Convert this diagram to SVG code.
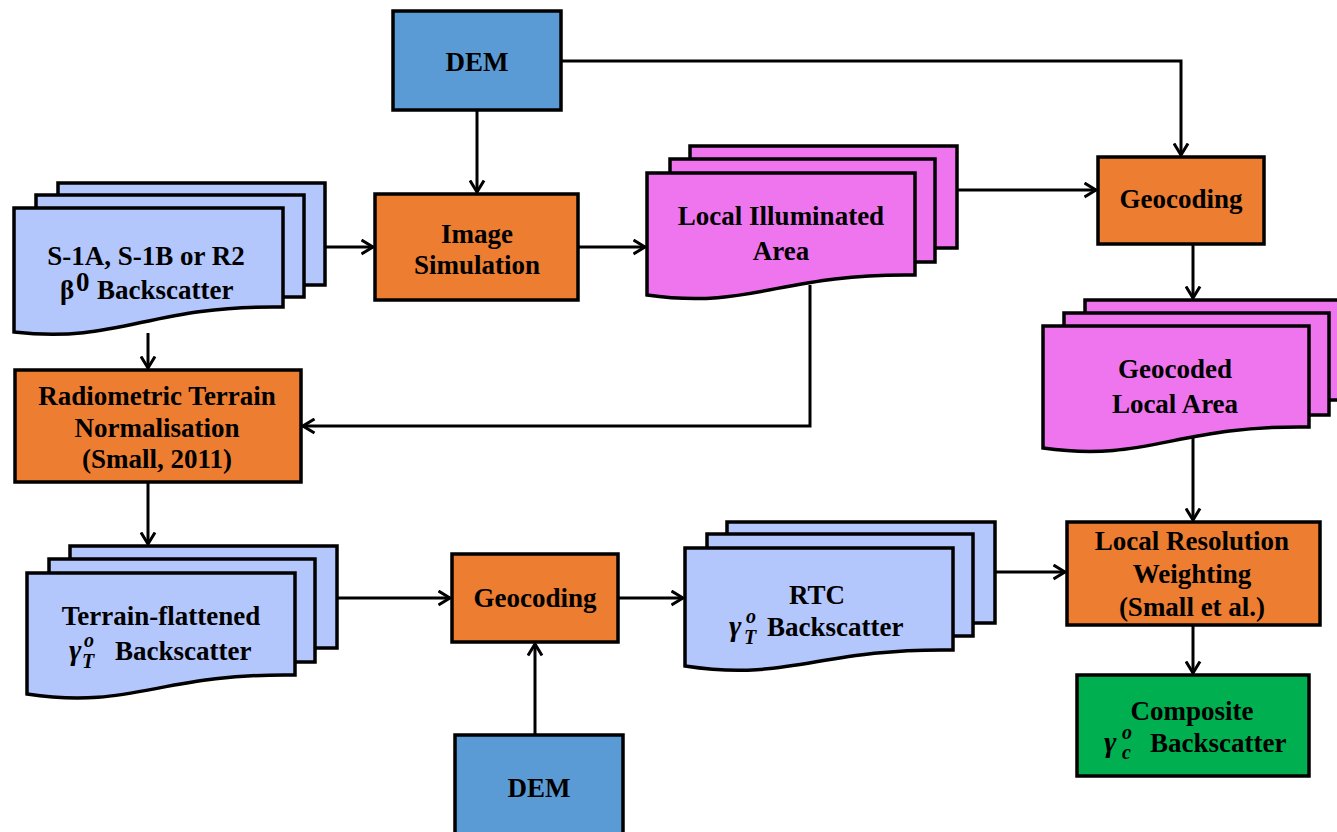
<svg xmlns="http://www.w3.org/2000/svg" width="1337" height="832" viewBox="0 0 1337 832">
<defs>
<marker id="ah" viewBox="0 0 14 17" refX="12.5" refY="8.5" markerWidth="14" markerHeight="17" markerUnits="userSpaceOnUse" orient="auto">
<path d="M1,1.5 L12.5,8.5 L1,15.5" fill="none" stroke="#000" stroke-width="3"/>
</marker>
</defs>
<style>
.box{stroke:#000;stroke-width:3.5}
.orange{fill:#ED7D31}
.dem{fill:#5B9BD5}
.green{fill:#00B050}
.blue{fill:#B4C7FD;stroke:#000;stroke-width:3.5}
.pink{fill:#EF75EF;stroke:#000;stroke-width:3.5}
.t{font-family:"Liberation Serif","Times New Roman",serif;font-weight:bold;font-size:27px;fill:#000;text-anchor:middle}
.tl{font-family:"Liberation Serif","Times New Roman",serif;font-weight:bold;font-size:27px;fill:#000}
.m{font-family:"Liberation Serif","Times New Roman",serif;font-weight:bold;font-style:italic;fill:#000}
.c{fill:none;stroke:#000;stroke-width:3}
</style>
<g id="connectors">
<path class="c" d="M477,110 V192" marker-end="url(#ah)"/>
<path class="c" d="M561,61 H1181 V155" marker-end="url(#ah)"/>
<path class="c" d="M325,247 H373" marker-end="url(#ah)"/>
<path class="c" d="M148,333 V368" marker-end="url(#ah)"/>
<path class="c" d="M578,247 H645" marker-end="url(#ah)"/>
<path class="c" d="M957,190 H1096" marker-end="url(#ah)"/>
<path class="c" d="M810,285 V426 H303" marker-end="url(#ah)"/>
<path class="c" d="M148,483 V544" marker-end="url(#ah)"/>
<path class="c" d="M337,598 H450" marker-end="url(#ah)"/>
<path class="c" d="M535,735 V644" marker-end="url(#ah)"/>
<path class="c" d="M618,598 H683" marker-end="url(#ah)"/>
<path class="c" d="M995,572 H1065" marker-end="url(#ah)"/>
<path class="c" d="M1193,244 V298" marker-end="url(#ah)"/>
<path class="c" d="M1193,438 V520" marker-end="url(#ah)"/>
<path class="c" d="M1193,625 V673" marker-end="url(#ah)"/>
</g>
<g id="dem-top">
<rect class="box dem" x="393" y="11" width="168" height="99"/>
<text class="t" x="477" y="71">DEM</text>
</g>
<g id="image-simulation">
<rect class="box orange" x="375" y="194" width="203" height="106"/>
<text class="t" x="477" y="243">Image</text>
<text class="t" x="477" y="274">Simulation</text>
</g>
<g id="s1-backscatter">
<rect class="blue" x="58" y="183" width="267" height="102"/>
<rect class="blue" x="36" y="195" width="268" height="102"/>
<path class="blue" d="M14,208 H283 V307 C148,305 120,344 14,332 Z"/>
<text class="t" x="146" y="265">S-1A, S-1B or R2</text>
<text class="tl" x="60" y="299">β</text>
<text class="tl" x="76" y="291" font-size="15">0</text>
<text class="tl" x="97" y="299">Backscatter</text>
</g>
<g id="local-illuminated-area">
<rect class="pink" x="690" y="146" width="267" height="102"/>
<rect class="pink" x="670" y="159" width="265" height="103"/>
<path class="pink" d="M647,173 H915 V275 C780,273 752,310 647,295 Z"/>
<text class="t" x="781" y="225">Local Illuminated</text>
<text class="t" x="781" y="260">Area</text>
</g>
<g id="geocoding-top">
<rect class="box orange" x="1098" y="157" width="166" height="87"/>
<text class="t" x="1181" y="208">Geocoding</text>
</g>
<g id="geocoded-local-area">
<rect class="pink" x="1085" y="300" width="270" height="100"/>
<rect class="pink" x="1064" y="313" width="265" height="102"/>
<path class="pink" d="M1043,326 H1309 V427 C1175,425 1148,463 1043,448 Z"/>
<text class="t" x="1175" y="378">Geocoded</text>
<text class="t" x="1175" y="413">Local Area</text>
</g>
<g id="radiometric-terrain-normalisation">
<rect class="box orange" x="15" y="370" width="286" height="112"/>
<text class="t" x="157" y="405">Radiometric Terrain</text>
<text class="t" x="157" y="437">Normalisation</text>
<text class="t" x="157" y="468">(Small, 2011)</text>
</g>
<g id="terrain-flattened">
<rect class="blue" x="70" y="546" width="267" height="102"/>
<rect class="blue" x="49" y="559" width="266" height="103"/>
<path class="blue" d="M27,573 H295 V675 C160,673 132,710 27,694 Z"/>
<text class="t" x="161" y="625">Terrain-flattened</text>
<text class="m" x="69" y="660" font-size="30">γ</text>
<text class="m" x="84" y="647" font-size="20">o</text>
<text class="m" x="82" y="668" font-size="20">T</text>
<text class="tl" x="115" y="660">Backscatter</text>
</g>
<g id="geocoding-bottom">
<rect class="box orange" x="452" y="554" width="166" height="88"/>
<text class="t" x="535" y="607">Geocoding</text>
</g>
<g id="dem-bottom">
<rect class="box dem" x="455" y="735" width="168" height="110"/>
<text class="t" x="539" y="797">DEM</text>
</g>
<g id="rtc-backscatter">
<rect class="blue" x="727" y="522" width="268" height="101"/>
<rect class="blue" x="707" y="534" width="266" height="102"/>
<path class="blue" d="M685,548 H953 V650 C818,648 790,682 685,666 Z"/>
<text class="t" x="817" y="604">RTC</text>
<text class="m" x="729" y="636" font-size="30">γ</text>
<text class="m" x="746" y="623" font-size="20">o</text>
<text class="m" x="744" y="644" font-size="20">T</text>
<text class="tl" x="767" y="636">Backscatter</text>
</g>
<g id="local-resolution-weighting">
<rect class="box orange" x="1067" y="522" width="253" height="103"/>
<text class="t" x="1192" y="550">Local Resolution</text>
<text class="t" x="1192" y="583">Weighting</text>
<text class="t" x="1192" y="616">(Small et al.)</text>
</g>
<g id="composite">
<rect class="box green" x="1077" y="675" width="232" height="101"/>
<text class="t" x="1192" y="720">Composite</text>
<text class="m" x="1104" y="752" font-size="30">γ</text>
<text class="m" x="1122" y="739" font-size="20">o</text>
<text class="m" x="1122" y="759" font-size="20">c</text>
<text class="tl" x="1150" y="752">Backscatter</text>
</g>
</svg>
